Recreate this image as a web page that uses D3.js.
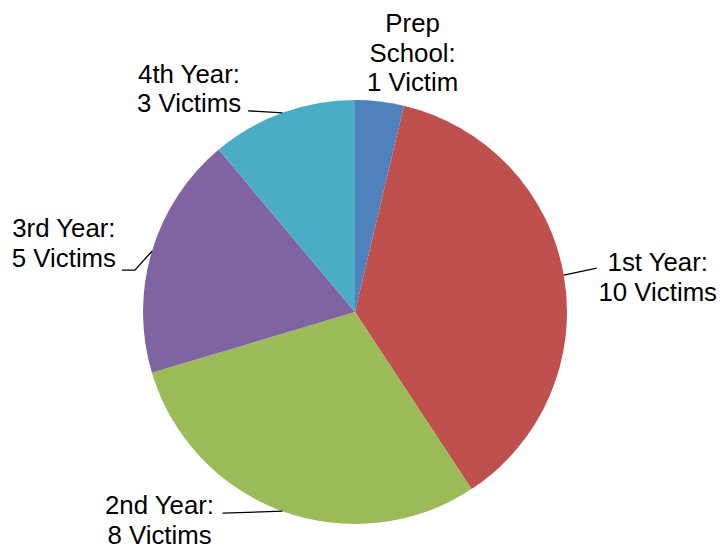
<!DOCTYPE html>
<html>
<head>
<meta charset="utf-8">
<script src="https://cdn.jsdelivr.net/npm/d3@7"></script>
<style>
  html, body { margin: 0; padding: 0; background: #ffffff; }
  svg { display: block; }
</style>
</head>
<body>
<svg id="chart" width="720" height="548"></svg>
<script>
// ---- Data ----
const categories = ["Prep School", "1st Year", "2nd Year", "3rd Year", "4th Year"];
const values = [1, 10, 8, 5, 3];
const colors = ["#4F81BD", "#C0504D", "#9BBB59", "#8064A2", "#4BACC6"];

// ---- Layout (label offsets relative to each slice's outer mid-point) ----
const labelLayout = [
  { dx: 33,    dy: -69, wrap: true,  leader: [] },
  { dx: 94,    dy: -4,  wrap: false, leader: [[33, -7]] },
  { dx: -123,  dy: 3,   wrap: false, leader: [[-60, 2]] },
  { dx: -88,   dy: -14, wrap: false, leader: [[-17, 19], [-30, 19]] },
  { dx: -93.5, dy: -30, wrap: false, leader: [[-34.5, -2]] }
];

const width = 720, height = 548;
const cx = 355, cy = 312, radius = 212;
const fontSize = 25.8, lineHeight = 29.5;

const svg = d3.select("#chart");
const g = svg.append("g").attr("transform", `translate(${cx},${cy})`);

const data = categories.map((c, i) => ({ category: c, value: values[i], color: colors[i], layout: labelLayout[i] }));

const pie = d3.pie().value(d => d.value).sort(null);
const arc = d3.arc().innerRadius(0).outerRadius(radius);
const arcs = pie(data);

g.selectAll("path.slice")
  .data(arcs)
  .enter()
  .append("path")
  .attr("class", "slice")
  .attr("d", arc)
  .attr("fill", d => d.data.color);

function labelLines(d) {
  const v = d.data.value;
  const second = `${v} Victim${v === 1 ? "" : "s"}`;
  if (d.data.layout.wrap) {
    const words = d.data.category.split(" ");
    const lines = words.slice(0, -1);
    lines.push(words[words.length - 1] + ":");
    return [...lines, second];
  }
  return [d.data.category + ":", second];
}

arcs.forEach(d => {
  const mid = (d.startAngle + d.endAngle) / 2;
  const ax = radius * Math.sin(mid);
  const ay = -radius * Math.cos(mid);
  const L = d.data.layout;

  if (L.leader.length) {
    const pts = [[ax, ay], ...L.leader.map(p => [ax + p[0], ay + p[1]])];
    g.append("path")
      .attr("d", d3.line()(pts))
      .attr("fill", "none")
      .attr("stroke", "#000")
      .attr("stroke-width", 1.3);
  }

  const text = g.append("text")
    .attr("x", ax + L.dx)
    .attr("y", ay + L.dy)
    .attr("text-anchor", "middle")
    .attr("font-family", "'Liberation Sans', Arial, sans-serif")
    .attr("font-size", fontSize)
    .attr("fill", "#000");

  labelLines(d).forEach((line, i) => {
    text.append("tspan")
      .attr("x", ax + L.dx)
      .attr("dy", i === 0 ? 0 : lineHeight)
      .text(line);
  });
});
</script>
</body>
</html>
